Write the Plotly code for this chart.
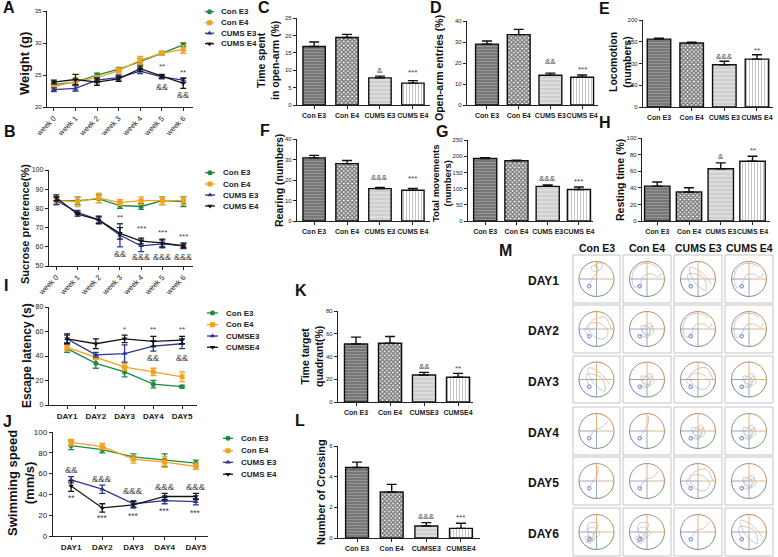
import plotly.graph_objects as go

W, H = 778, 557
FONT = "Liberation Sans, Arial, sans-serif"

# ---------------- data ----------------
weeks = ["week 0", "week 1", "week 2", "week 3", "week 4", "week 5", "week 6"]
days = ["DAY1", "DAY2", "DAY3", "DAY4", "DAY5"]
line_names_a = ["Con E3", "Con E4", "CUMS E3", "CUMS E4"]
line_names_i = ["Con E3", "Con E4", "CUMSE3", "CUMSE4"]
bar_cats = ["Con E3", "Con E4", "CUMS E3", "CUMS E4"]
bar_cats_kl = ["Con E3", "Con E4", "CUMSE3", "CUMSE4"]

# A: weight (g)
weight_con_e3 = [23.5, 23.9, 25.0, 25.9, 27.1, 28.4, 29.7]
weight_con_e4 = [23.2, 24.0, 24.6, 25.7, 27.3, 28.4, 29.0]
weight_cums_e3 = [22.7, 22.9, 24.2, 24.6, 25.6, 24.7, 24.2]
weight_cums_e4 = [23.9, 24.3, 23.9, 24.4, 26.0, 24.8, 23.7]
weight_err_con_e3 = [0.4, 0.4, 0.3, 0.3, 0.5, 0.3, 0.3]
weight_err_con_e4 = [0.4, 0.6, 0.3, 0.4, 0.6, 0.3, 0.6]
weight_err_cums_e3 = [0.3, 0.4, 0.4, 0.4, 0.4, 0.3, 0.3]
weight_err_cums_e4 = [0.3, 0.8, 0.5, 0.4, 0.4, 0.3, 0.8]

# B: sucrose preference (%)
sucrose_con_e3 = [84.0, 84.0, 85.0, 81.5, 81.0, 84.0, 83.5]
sucrose_con_e4 = [84.0, 83.5, 85.5, 83.0, 84.0, 84.0, 84.0]
sucrose_cums_e3 = [84.0, 78.0, 74.0, 66.0, 60.5, 61.5, 60.5]
sucrose_cums_e4 = [85.5, 77.0, 74.0, 67.0, 63.0, 62.0, 60.5]
sucrose_err_con_e3 = [2.0, 2.0, 2.0, 1.5, 1.5, 2.0, 2.5]
sucrose_err_con_e4 = [1.5, 2.5, 2.5, 1.5, 2.0, 2.0, 2.0]
sucrose_err_cums_e3 = [2.0, 1.0, 1.5, 6.0, 3.0, 2.0, 1.5]
sucrose_err_cums_e4 = [1.5, 1.0, 2.0, 3.0, 1.5, 2.0, 1.0]

# I: escape latency (s)
latency_con_e3 = [46, 34, 27, 17, 15]
latency_con_e4 = [47, 39, 31, 27, 23]
latency_cums_e3 = [54, 41, 42, 48, 50]
latency_cums_e4 = [54, 50, 54, 52, 53]
latency_err_con_e3 = [3, 4, 4, 3, 1]
latency_err_con_e4 = [3, 2, 3, 3, 4]
latency_err_cums_e3 = [3, 2, 7, 4, 4]
latency_err_cums_e4 = [4, 4, 3, 4, 3]

# J: swimming speed (mm/s)
speed_con_e3 = [87, 83, 76, 73, 70]
speed_con_e4 = [90, 86, 74, 71, 67]
speed_cums_e3 = [54, 45, 31, 34, 33]
speed_cums_e4 = [48, 27, 30, 38, 38]
speed_err_con_e3 = [4, 3, 3, 6, 3]
speed_err_con_e4 = [3, 3, 4, 5, 3]
speed_err_cums_e3 = [3, 4, 3, 3, 3]
speed_err_cums_e4 = [5, 4, 3, 3, 3]

# bar panels
open_arm_time = [16.8, 19.4, 7.8, 6.3]
open_arm_time_err = [1.3, 0.9, 0.5, 0.7]
open_arm_entries = [29.0, 33.5, 14.2, 13.2]
open_arm_entries_err = [1.5, 2.5, 1.0, 1.1]
locomotion = [156, 147, 97, 110]
locomotion_err = [2, 2, 8, 10]
rearing = [30.8, 28.0, 15.8, 15.0]
rearing_err = [1.2, 1.5, 0.6, 0.9]
total_movements = [193, 186, 107, 97]
total_movements_err = [2, 2, 4, 8]
resting_time = [42, 35, 63, 72]
resting_time_err = [5, 5, 7, 6]
target_quadrant = [51.0, 51.6, 23.7, 21.7]
target_quadrant_err = [6.0, 6.0, 2.3, 3.5]
crossings = [4.6, 3.0, 0.78, 0.63]
crossings_err = [0.35, 0.5, 0.22, 0.33]

# M panel labels and sketched swim tracks (unit-circle coordinates, y up)
m_cols = ["Con E3", "Con E4", "CUMS E3", "CUMS E4"]
m_rows = ["DAY1", "DAY2", "DAY3", "DAY4", "DAY5", "DAY6"]
track_a = [(-0.45, -0.35), (-0.2, 0.1), (0.1, 0.5), (0.0, 0.85), (-0.3, 0.75), (-0.15, 0.45),
           (0.25, 0.6), (0.35, 0.9), (0.05, 0.95), (-0.1, 0.7)]
track_b = [(0.6, 0.7), (0.2, 0.92), (-0.3, 0.9), (-0.75, 0.55), (-0.9, 0.0), (-0.75, -0.5),
           (-0.45, -0.35), (-0.2, 0.2), (0.3, 0.3), (0.7, 0.1), (0.85, 0.35)]
track_c = [(0.8, -0.3), (0.2, 0.4), (-0.5, 0.7), (-0.2, -0.2), (0.5, -0.7), (0.3, 0.1),
           (-0.6, 0.3), (-0.45, -0.4)]
track_d = [(0.1, 0.9), (0.05, 0.4), (-0.2, 0.0), (-0.4, -0.35)]
track_e = [(0.0, 0.0), (0.3, 0.2), (0.1, -0.3), (-0.3, -0.1), (0.2, 0.35), (0.4, -0.2),
           (-0.1, -0.4), (-0.35, 0.2), (0.15, 0.05), (0.05, -0.5), (-0.4, -0.35)]
track_f = [(-0.5, -0.2), (-0.2, -0.5), (-0.6, -0.6), (-0.3, -0.3), (-0.7, -0.3), (-0.4, -0.7),
           (-0.1, -0.2), (-0.6, 0.1), (-0.2, 0.3), (0.2, -0.1), (-0.3, -0.45), (0.1, 0.5),
           (-0.5, 0.5), (-0.45, -0.35)]
track_g = [(0.9, 0.0), (0.5, 0.7), (-0.1, 0.6), (-0.5, 0.2), (-0.2, -0.4), (0.4, -0.6),
           (0.7, -0.2), (0.3, 0.3), (-0.3, 0.35), (-0.7, -0.1), (-0.45, -0.35)]
track_h = [(0.7, 0.6), (0.3, 0.2), (-0.1, 0.1), (-0.35, -0.3)]
track_grid = [
    [track_a, track_b, track_c, track_b],
    [track_g, track_e, track_b, track_b],
    [track_c, track_e, track_g, track_e],
    [track_h, track_d, track_e, track_e],
    [track_d, track_h, track_g, track_e],
    [track_f, track_f, track_h, track_c],
]

COLORS = ["#1a8b42", "#f5a01f", "#2a3891", "#151515"]
SYMBOLS = ["circle", "square", "triangle-up", "triangle-down"]

# ---------------- helpers ----------------
def xd(a, b):
    return [a / W, b / W]

def yd(top, bot):
    return [1 - bot / H, 1 - top / H]

fig = go.Figure()
layout = dict(
    width=W, height=H, margin=dict(l=0, r=0, t=0, b=0, autoexpand=False),
    paper_bgcolor="white", plot_bgcolor="rgba(0,0,0,0)", barmode="overlay",
    showlegend=False, font=dict(family=FONT, color="#222"),
)
annotations = []
shapes = []

AX = dict(showline=True, linecolor="#222", linewidth=1.4, ticks="outside", automargin=False,
          ticklen=3, tickwidth=1, tickcolor="#222", showgrid=False, zeroline=False)


def set_axes(i, xdom, ydom, xrange, yrange, ytickvals, xtickfont, ytickfont, xticktext,
             xtickangle=0):
    xa = dict(AX, domain=xdom, range=xrange, anchor=f"y{i}", tickfont=xtickfont,
              tickangle=xtickangle, type="linear",
              tickvals=list(range(len(xticktext))), ticktext=xticktext)
    ya = dict(AX, domain=ydom, range=yrange, anchor=f"x{i}", tickvals=ytickvals,
              tickfont=ytickfont, type="linear")
    layout[f"xaxis{i}"] = xa
    layout[f"yaxis{i}"] = ya


def line_panel(i, xcats, series, errs):
    xs = list(range(len(xcats)))
    for k in range(4):
        fig.add_trace(go.Scatter(
            x=xs, y=series[k], mode="lines+markers",
            line=dict(color=COLORS[k], width=1.3),
            marker=dict(symbol=SYMBOLS[k], size=5, color=COLORS[k]),
            error_y=dict(type="data", array=errs[k], color=COLORS[k], thickness=1.3, width=3),
            xaxis=f"x{i}", yaxis=f"y{i}", cliponaxis=False))


PAT_SHAPE = ["-", "x", "-", "|"]
PAT_BG = ["#777777", "#ffffff", "#cfcfcf", "#ffffff"]
PAT_FG = ["#b5b5b5", "#000000", "#f6f6f6", "#8a8a8a"]
PAT_SIZE = [3, 3, 4, 3]
PAT_SOL = [0.35, 0.75, 0.35, 0.35]


def bar_panel(i, cats, vals, errs, width):
    for k in range(len(cats)):
        fig.add_trace(go.Bar(
            x=[k], y=[vals[k]], width=width,
            marker=dict(color=PAT_BG[k], line=dict(color="#111", width=1.4),
                        pattern=dict(shape=PAT_SHAPE[k], fgcolor=PAT_FG[k],
                                     size=PAT_SIZE[k], solidity=PAT_SOL[k], fillmode="overlay")),
            error_y=dict(type="data", array=[errs[k]], arrayminus=[0], symmetric=False,
                         color="#111", thickness=1.4, width=5),
            xaxis=f"x{i}", yaxis=f"y{i}", cliponaxis=False))


def note(i, x, y, text, size=8, color="#444"):
    annotations.append(dict(x=x, y=y, xref=f"x{i}", yref=f"y{i}", text=text, showarrow=False,
                            font=dict(size=size, color=color, family=FONT)))


def ptext(x, y, text, size, angle=0, bold=True, anchor="center", color="#111"):
    annotations.append(dict(x=x / W, y=1 - y / H, xref="paper", yref="paper", text=text,
                            showarrow=False, textangle=angle, xanchor=anchor, yanchor="middle",
                            font=dict(size=size, family=FONT, color=color,
                                      weight="bold" if bold else "normal")))

small = dict(size=6, family=FONT, color="#222")

# ---------------- A ----------------
set_axes(1, xd(47, 193), yd(11, 107), [-0.32, 6.45], [20, 35], [20, 25, 30, 35],
         dict(size=7.5, family=FONT, color="#222"), small, weeks, xtickangle=-45)
line_panel(1, weeks, [weight_con_e3, weight_con_e4, weight_cums_e3, weight_cums_e4],
           [weight_err_con_e3, weight_err_con_e4, weight_err_cums_e3, weight_err_cums_e4])
note(1, 5, 26.3, "**"); note(1, 5, 23.1, "&&", 9)
note(1, 6, 25.4, "**"); note(1, 6, 21.9, "&&", 9)

# ---------------- B ----------------
set_axes(2, xd(49, 193), yd(170, 266), [-0.35, 6.45], [50, 100], [50, 60, 70, 80, 90, 100],
         dict(size=7.5, family=FONT, color="#222"), dict(size=7, family=FONT, color="#222"),
         weeks, xtickangle=-45)
line_panel(2, weeks, [sucrose_con_e3, sucrose_con_e4, sucrose_cums_e3, sucrose_cums_e4],
           [sucrose_err_con_e3, sucrose_err_con_e4, sucrose_err_cums_e3, sucrose_err_cums_e4])
note(2, 3, 75.4, "**")
for wk, yy in [(4, 69.6), (5, 67.3), (6, 65.3)]:
    note(2, wk, yy, "***")
note(2, 3, 56.3, "&&", 9)
for wk in [4, 5, 6]:
    note(2, wk, 54.6, "&&&", 9)

# ---------------- I ----------------
set_axes(3, xd(49, 197), yd(307, 405), [-0.63, 4.52], [0, 80], [0, 20, 40, 60, 80],
         dict(size=8, family=FONT, color="#222", weight="bold"),
         dict(size=7, family=FONT, color="#222"), days)
line_panel(3, days, [latency_con_e3, latency_con_e4, latency_cums_e3, latency_cums_e4],
           [latency_err_con_e3, latency_err_con_e4, latency_err_cums_e3, latency_err_cums_e4])
note(3, 2, 62, "*"); note(3, 3, 62, "**"); note(3, 4, 62, "**")
note(3, 3, 38, "&&", 9); note(3, 4, 38, "&&", 9)

# ---------------- J ----------------
set_axes(4, xd(53, 208), yd(432, 536), [-0.58, 4.39], [0, 100], [0, 20, 40, 60, 80, 100],
         dict(size=8, family=FONT, color="#222", weight="bold"),
         dict(size=8, family=FONT, color="#222"), days)
line_panel(4, days, [speed_con_e3, speed_con_e4, speed_cums_e3, speed_cums_e4],
           [speed_err_con_e3, speed_err_con_e4, speed_err_cums_e3, speed_err_cums_e4])
for d, ya, yb, ta, tb in [(0, 64, 37, "&&", "**"), (1, 55.5, 17.6, "&&&", "***"),
                          (2, 44.2, 19.2, "&&&", "***"), (3, 47.4, 24.3, "&&&", "***"),
                          (4, 47.4, 22, "&&&", "***")]:
    note(4, d, ya, ta, 9.5); note(4, d, yb, tb, 8.5)

# ---------------- bar panels ----------------
bar_specs = [
    (5, 297, 430, 18, 105, [-0.52, 3.52], [25, 0, 5, 10, 15, 20, 25], bar_cats, open_arm_time,
     open_arm_time_err, 0.68, [(2, 10.0, "&"), (3, 9.3, "***")]),
    (6, 467, 598, 21, 105, [-0.63, 3.5], [40, 0, 10, 20, 30, 40], bar_cats, open_arm_entries,
     open_arm_entries_err, 0.72, [(2, 20.6, "&&"), (3, 17.0, "***")]),
    (7, 643, 773, 20, 107, [-0.49, 3.49], [200, 0, 50, 100, 150, 200], bar_cats, locomotion,
     locomotion_err, 0.72, [(2, 116, "&&&"), (3, 129, "**")]),
    (8, 297, 430, 139, 221, [-0.52, 3.52], [40, 0, 10, 20, 30, 40], bar_cats, rearing,
     rearing_err, 0.68, [(2, 21.3, "&&&"), (3, 20.5, "***")]),
    (9, 468, 593, 140, 221, [-0.55, 3.45], [250, 0, 50, 100, 150, 200, 250], bar_cats,
     total_movements, total_movements_err, 0.74, [(2, 132, "&&&"), (3, 123, "***")]),
    (10, 642, 770, 138, 221, [-0.48, 3.55], [100, 0, 20, 40, 60, 80, 100], bar_cats, resting_time,
     resting_time_err, 0.8, [(2, 77.5, "&"), (3, 85.5, "**")]),
    (11, 338, 473, 311, 402, [-0.53, 3.44], [80, 0, 20, 40, 60, 80], bar_cats_kl, target_quadrant,
     target_quadrant_err, 0.68, [(2, 31, "&&"), (3, 29.6, "**")]),
    (12, 338, 480, 446, 538, [-0.55, 3.55], [6, 0, 2, 4, 6], bar_cats_kl, crossings,
     crossings_err, 0.66, [(2, 1.39, "&&&"), (3, 1.35, "***")]),
]
for (i, x0, x1, yt, yb, xr, yt_list, cats, vals, errs, wdt, notes) in bar_specs:
    ymax = yt_list[0]
    set_axes(i, xd(x0, x1), yd(yt, yb), xr, [0, ymax], yt_list[1:],
             dict(size=7, family=FONT, color="#222", weight="bold"),
             dict(size=6, family=FONT, color="#222"), cats)
    bar_panel(i, cats, vals, errs, wdt)
    for (c, yy, t) in notes:
        note(i, c, yy, t, 8)

# ---------------- overlay axis (pixel coordinates) ----------------
layout["xaxis13"] = dict(domain=[0, 1], range=[0, W], visible=False, anchor="y13", fixedrange=True)
layout["yaxis13"] = dict(domain=[0, 1], range=[H, 0], visible=False, anchor="x13", fixedrange=True)

legend_specs = [
    (205, 214, 219, [11.7, 22.7, 33.3, 43.7], line_names_a),
    (205, 215, 221, [172.7, 184.0, 195.0, 206.0], line_names_a),
    (207, 218, 224, [313.0, 324.7, 336.0, 347.3], line_names_i),
    (223, 233, 239, [438.3, 450.7, 462.3, 474.3], line_names_a),
]
for (lx0, lx1, tx, rows, names) in legend_specs:
    for k, (ry, nm) in enumerate(zip(rows, names)):
        fig.add_trace(go.Scatter(
            x=[lx0, lx1], y=[ry, ry], mode="lines", line=dict(color=COLORS[k], width=1.3),
            xaxis="x13", yaxis="y13", hoverinfo="skip"))
        fig.add_trace(go.Scatter(
            x=[(lx0 + lx1) / 2], y=[ry], mode="markers",
            marker=dict(symbol=SYMBOLS[k], size=5, color=COLORS[k]),
            xaxis="x13", yaxis="y13", hoverinfo="skip"))
        annotations.append(dict(x=tx, y=ry, xref="x13", yref="y13", text=nm, showarrow=False,
                                xanchor="left", yanchor="middle",
                                font=dict(size=8, family=FONT, color="#222", weight="bold")))

# ---------------- M panel: water-maze tracks ----------------
col_x = [(573, 620), (623, 671), (674, 722), (725, 773)]
row_y = [(255, 303), (305, 353), (356, 403), (407, 455), (457, 505), (508, 556)]
K = 0.5523
ARC_COL = {"ur": "#c98a5c", "ul": "#a88c80", "ll": "#7f78b4", "lr": "#6c9c62"}
for ci, (cx0, cx1) in enumerate(col_x):
    for ri, (ry0, ry1) in enumerate(row_y):
        shapes.append(dict(type="rect", xref="x13", yref="y13", x0=cx0, x1=cx1, y0=ry0, y1=ry1,
                           line=dict(color="#c4c4c4", width=1), layer="above"))
        cx, cy, r = (cx0 + cx1) / 2, (ry0 + ry1) / 2, 17.5
        trk = track_grid[ri][ci]
        fig.add_trace(go.Scatter(
            x=[cx + p[0] * r * 0.95 for p in trk], y=[cy - p[1] * r * 0.95 for p in trk],
            mode="lines", line=dict(color="#bdbdbd", width=0.8, shape="spline", smoothing=1.0),
            xaxis="x13", yaxis="y13", hoverinfo="skip"))
        quads = [
            ("ur", (cx + r, cy), (cx + r, cy - K * r), (cx + K * r, cy - r), (cx, cy - r)),
            ("ul", (cx, cy - r), (cx - K * r, cy - r), (cx - r, cy - K * r), (cx - r, cy)),
            ("ll", (cx - r, cy), (cx - r, cy + K * r), (cx - K * r, cy + r), (cx, cy + r)),
            ("lr", (cx, cy + r), (cx + K * r, cy + r), (cx + r, cy + K * r), (cx + r, cy)),
        ]
        for (q, p0, c1, c2, p1) in quads:
            path = f"M {p0[0]},{p0[1]} C {c1[0]},{c1[1]} {c2[0]},{c2[1]} {p1[0]},{p1[1]}"
            shapes.append(dict(type="path", xref="x13", yref="y13", path=path,
                               line=dict(color=ARC_COL[q], width=1), layer="above"))
        for (xa, ya, xb, yb, col) in [(cx, cy, cx, cy - r, "#e6b27a"), (cx, cy, cx + r, cy, "#dcb88c"),
                                      (cx, cy, cx - r, cy, "#9aa2c4"), (cx, cy, cx, cy + r, "#95a9b6")]:
            shapes.append(dict(type="line", xref="x13", yref="y13", x0=xa, y0=ya, x1=xb, y1=yb,
                               line=dict(color=col, width=1), layer="above"))
        shapes.append(dict(type="circle", xref="x13", yref="y13", x0=cx - 9, x1=cx - 5.5,
                           y0=cy + 5.5, y1=cy + 9, line=dict(color="#5566c4", width=0.9),
                           layer="above"))

for (cx0, cx1), nm in zip(col_x, m_cols):
    ptext((cx0 + cx1) / 2, 248, nm, 10.5)
for (ry0, ry1), nm in zip(row_y, m_rows):
    ptext(543, (ry0 + ry1) / 2 + 2, nm, 12)

# ---------------- panel letters ----------------
for (lx, ly, t) in [(1, 8, "A"), (2, 132, "B"), (256, 7, "C"), (428, 8, "D"), (597, 9, "E"),
                    (258, 130, "F"), (434, 132, "G"), (597, 122, "H"), (2, 285, "I"),
                    (1, 421, "J"), (293, 290, "K"), (293, 420, "L"), (497, 250, "M")]:
    ptext(lx, ly, t, 16, anchor="left")

# ---------------- axis titles ----------------
ptext(24, 64, "Weight (g)", 13, angle=-90)
ptext(25, 224, "Sucrose preference(%)", 11, angle=-90)
ptext(27, 356, "Escape latency (s)", 12, angle=-90)
ptext(21, 483, "Swimming speed<br>(mm/s)", 13, angle=-90)
ptext(268, 61, "Time spent<br>in open-arm (%)", 10.5, angle=-90)
ptext(439, 68, "Open-arm entries (%)", 10.5, angle=-90)
ptext(620, 62, "Locomotion<br>(numbers)", 10.5, angle=-90)
ptext(279, 181, "Rearing (numbers)", 10.5, angle=-90)
ptext(441, 184, "Total movements<br>(numbers)", 9.5, angle=-90)
ptext(620, 180, "Resting time (%)", 10.5, angle=-90)
ptext(312, 357, "Time target<br>quadrant(%)", 10.5, angle=-90)
ptext(321, 492, "Number of Crossing", 11, angle=-90)

layout["annotations"] = annotations
layout["shapes"] = shapes
fig.update_layout(**layout)
fig.write_html("out.html", config={"displayModeBar": False},
               post_script="document.body.style.margin='0px';document.body.style.overflow='hidden';")
